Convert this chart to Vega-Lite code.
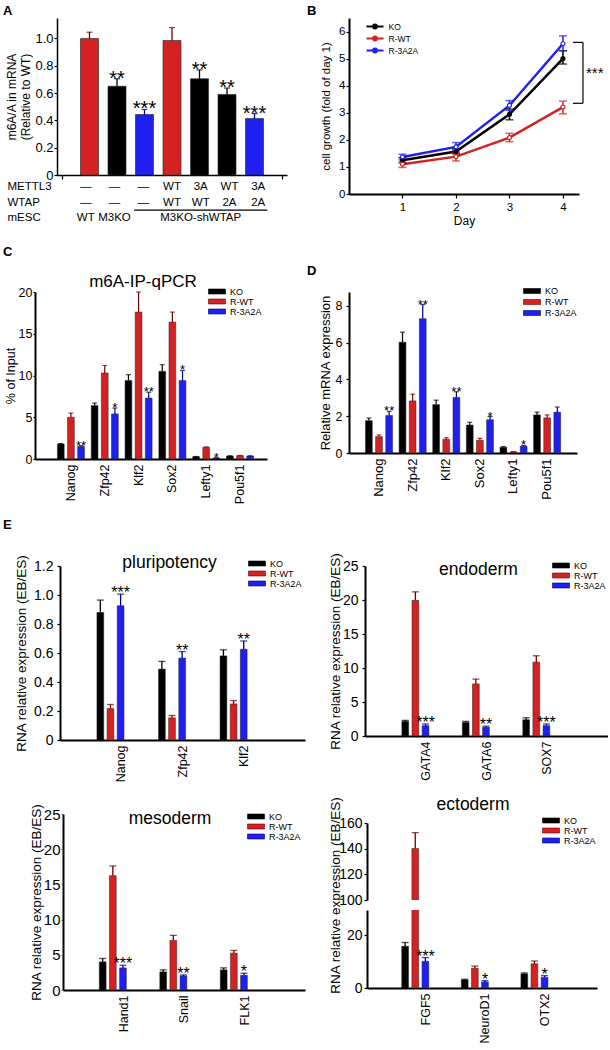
{
"$schema":"https://vega.github.io/schema/vega-lite/v6.json",
"padding":{"left":3,"top":5,"right":0,"bottom":0},
"config":{
 "font":"Liberation Sans",
 "view":{"stroke":null},
 "axis":{"grid":false,"domainColor":"#000000","tickColor":"#000000","labelColor":"#000000","titleColor":"#000000","titleFontWeight":"normal","labelFont":"Liberation Sans","titleFont":"Liberation Sans","domainWidth":1.8,"tickWidth":1.2,"tickSize":3,"labelPadding":2,"labelOverlap":false,"labelFlush":false,"labelBound":false,"tickCount":30},
 "legend":{"labelFont":"Liberation Sans","labelFontSize":9,"labelColor":"#000000","symbolType":"M-2.125,-0.625H2.125V0.625H-2.125Z","symbolSize":64,"symbolStrokeWidth":0.6,"rowPadding":-0.5,"labelOffset":8.5,"padding":0,"symbolOpacity":1},
 "title":{"font":"Liberation Sans","color":"#000000","fontWeight":"normal"},
 "text":{"font":"Liberation Sans","color":"#000000"}
},
"datasets":{
 "A":[
  {"col":1,"geno":"WT","v":1.0,"hi":1.046},
  {"col":2,"geno":"KO","v":0.65,"hi":0.705,"sig":"**"},
  {"col":3,"geno":"3A2A","v":0.443,"hi":0.48,"sig":"***"},
  {"col":4,"geno":"WT","v":0.985,"hi":1.08},
  {"col":5,"geno":"KO","v":0.705,"hi":0.77,"sig":"**"},
  {"col":6,"geno":"KO","v":0.59,"hi":0.637,"sig":"**"},
  {"col":7,"geno":"3A2A","v":0.414,"hi":0.45,"sig":"***"}
 ],
 "Atab":[
  {"col":1,"row":"METTL3","txt":"—"},{"col":2,"row":"METTL3","txt":"—"},{"col":3,"row":"METTL3","txt":"—"},{"col":4,"row":"METTL3","txt":"WT"},{"col":5,"row":"METTL3","txt":"3A"},{"col":6,"row":"METTL3","txt":"WT"},{"col":7,"row":"METTL3","txt":"3A"},
  {"col":1,"row":"WTAP","txt":"—"},{"col":2,"row":"WTAP","txt":"—"},{"col":3,"row":"WTAP","txt":"—"},{"col":4,"row":"WTAP","txt":"WT"},{"col":5,"row":"WTAP","txt":"WT"},{"col":6,"row":"WTAP","txt":"2A"},{"col":7,"row":"WTAP","txt":"2A"},
  {"col":1,"row":"mESC","txt":"WT"},{"col":2,"row":"mESC","txt":"M3KO"},{"col":5,"row":"mESC","txt":"M3KO-shWTAP"}
 ],
 "Aline":[{"from":3,"to":7,"row":"mESC"}],
 "B":[
  {"day":1,"line":"KO","v":1.25,"lo":1.15,"hi":1.35},
  {"day":2,"line":"KO","v":1.57,"lo":1.48,"hi":1.66},
  {"day":3,"line":"KO","v":2.94,"lo":2.74,"hi":3.14},
  {"day":4,"line":"KO","v":5.0,"lo":4.8,"hi":5.29},
  {"day":1,"line":"R-WT","v":1.1,"lo":0.98,"hi":1.22},
  {"day":2,"line":"R-WT","v":1.38,"lo":1.22,"hi":1.53},
  {"day":3,"line":"R-WT","v":2.08,"lo":1.93,"hi":2.24},
  {"day":4,"line":"R-WT","v":3.21,"lo":2.96,"hi":3.43},
  {"day":1,"line":"R-3A2A","v":1.37,"lo":1.29,"hi":1.47},
  {"day":2,"line":"R-3A2A","v":1.74,"lo":1.59,"hi":1.9},
  {"day":3,"line":"R-3A2A","v":3.27,"lo":3.09,"hi":3.45},
  {"day":4,"line":"R-3A2A","v":5.55,"lo":5.29,"hi":5.84}
 ],
 "Bbr":[{"day":4,"top":5.6,"bottom":3.35,"label":"***"}],
 "C":[
  {"gene":"Nanog","line":"KO","v":1.8,"hi":1.85},{"gene":"Nanog","line":"R-WT","v":5.0,"hi":5.5},{"gene":"Nanog","line":"R-3A2A","v":1.5,"hi":1.6,"sig":"**"},
  {"gene":"Zfp42","line":"KO","v":6.4,"hi":6.7},{"gene":"Zfp42","line":"R-WT","v":10.3,"hi":11.2},{"gene":"Zfp42","line":"R-3A2A","v":5.4,"hi":6.1,"sig":"*"},
  {"gene":"Klf2","line":"KO","v":9.4,"hi":10.1},{"gene":"Klf2","line":"R-WT","v":17.6,"hi":20.0},{"gene":"Klf2","line":"R-3A2A","v":7.3,"hi":8.0,"sig":"**"},
  {"gene":"Sox2","line":"KO","v":10.5,"hi":11.3},{"gene":"Sox2","line":"R-WT","v":16.4,"hi":17.6},{"gene":"Sox2","line":"R-3A2A","v":9.4,"hi":10.6,"sig":"*"},
  {"gene":"Lefty1","line":"KO","v":0.28,"hi":0.3},{"gene":"Lefty1","line":"R-WT","v":1.4,"hi":1.45},{"gene":"Lefty1","line":"R-3A2A","v":0.12,"hi":0.15,"sig":"*"},
  {"gene":"Pou5f1","line":"KO","v":0.36,"hi":0.38},{"gene":"Pou5f1","line":"R-WT","v":0.4,"hi":0.42},{"gene":"Pou5f1","line":"R-3A2A","v":0.36,"hi":0.38}
 ],
 "D":[
  {"gene":"Nanog","line":"KO","v":1.76,"hi":1.9},{"gene":"Nanog","line":"R-WT","v":0.89,"hi":0.98},{"gene":"Nanog","line":"R-3A2A","v":2.04,"hi":2.26,"sig":"**"},
  {"gene":"Zfp42","line":"KO","v":6.02,"hi":6.57},{"gene":"Zfp42","line":"R-WT","v":2.83,"hi":3.2},{"gene":"Zfp42","line":"R-3A2A","v":7.3,"hi":8.07,"sig":"**"},
  {"gene":"Klf2","line":"KO","v":2.63,"hi":2.87},{"gene":"Klf2","line":"R-WT","v":0.74,"hi":0.83},{"gene":"Klf2","line":"R-3A2A","v":3.02,"hi":3.33,"sig":"**"},
  {"gene":"Sox2","line":"KO","v":1.52,"hi":1.67},{"gene":"Sox2","line":"R-WT","v":0.69,"hi":0.8},{"gene":"Sox2","line":"R-3A2A","v":1.81,"hi":1.98,"sig":"*"},
  {"gene":"Lefty1","line":"KO","v":0.31,"hi":0.35},{"gene":"Lefty1","line":"R-WT","v":0.06,"hi":0.08},{"gene":"Lefty1","line":"R-3A2A","v":0.37,"hi":0.41,"sig":"*"},
  {"gene":"Pou5f1","line":"KO","v":2.07,"hi":2.22},{"gene":"Pou5f1","line":"R-WT","v":1.91,"hi":2.07},{"gene":"Pou5f1","line":"R-3A2A","v":2.22,"hi":2.5}
 ],
 "P":[
  {"gene":"Nanog","line":"KO","v":0.88,"hi":0.965},{"gene":"Nanog","line":"R-WT","v":0.217,"hi":0.245},{"gene":"Nanog","line":"R-3A2A","v":0.926,"hi":1.006,"sig":"***"},
  {"gene":"Zfp42","line":"KO","v":0.489,"hi":0.542},{"gene":"Zfp42","line":"R-WT","v":0.153,"hi":0.169},{"gene":"Zfp42","line":"R-3A2A","v":0.565,"hi":0.61,"sig":"**"},
  {"gene":"Klf2","line":"KO","v":0.58,"hi":0.622},{"gene":"Klf2","line":"R-WT","v":0.249,"hi":0.272},{"gene":"Klf2","line":"R-3A2A","v":0.626,"hi":0.683,"sig":"**"}
 ],
 "En":[
  {"gene":"GATA4","line":"KO","v":2.15,"hi":2.3},{"gene":"GATA4","line":"R-WT","v":19.95,"hi":21.2},{"gene":"GATA4","line":"R-3A2A","v":1.53,"hi":1.77,"sig":"***"},
  {"gene":"GATA6","line":"KO","v":2.0,"hi":2.15},{"gene":"GATA6","line":"R-WT","v":7.66,"hi":8.37},{"gene":"GATA6","line":"R-3A2A","v":1.29,"hi":1.44,"sig":"**"},
  {"gene":"SOX7","line":"KO","v":2.39,"hi":2.68},{"gene":"SOX7","line":"R-WT","v":10.86,"hi":11.8},{"gene":"SOX7","line":"R-3A2A","v":1.53,"hi":1.77,"sig":"***"}
 ],
 "Me":[
  {"gene":"Hand1","line":"KO","v":4.0,"hi":4.48},{"gene":"Hand1","line":"R-WT","v":16.24,"hi":17.62},{"gene":"Hand1","line":"R-3A2A","v":3.14,"hi":3.52,"sig":"***"},
  {"gene":"Snail","line":"KO","v":2.57,"hi":2.86},{"gene":"Snail","line":"R-WT","v":7.05,"hi":7.76},{"gene":"Snail","line":"R-3A2A","v":2.0,"hi":2.14,"sig":"**"},
  {"gene":"FLK1","line":"KO","v":2.86,"hi":3.14},{"gene":"FLK1","line":"R-WT","v":5.24,"hi":5.62},{"gene":"FLK1","line":"R-3A2A","v":2.1,"hi":2.38,"sig":"*"}
 ],
 "Ec":[
  {"gene":"FGF5","line":"KO","v":15.8,"hi":17.2},{"gene":"FGF5","line":"R-WT","v":140.2,"hi":152.5},{"gene":"FGF5","line":"R-3A2A","v":10.1,"hi":11.5,"sig":"***"},
  {"gene":"NeuroD1","line":"KO","v":3.06,"hi":3.3},{"gene":"NeuroD1","line":"R-WT","v":7.5,"hi":8.3},{"gene":"NeuroD1","line":"R-3A2A","v":2.3,"hi":2.8,"sig":"*"},
  {"gene":"OTX2","line":"KO","v":5.35,"hi":5.7},{"gene":"OTX2","line":"R-WT","v":9.17,"hi":10.2},{"gene":"OTX2","line":"R-3A2A","v":4.08,"hi":4.7,"sig":"*"}
 ]
},
"spacing":0,
"resolve":{"scale":{"fill":"independent","color":"independent","stroke":"independent"},"legend":{"fill":"independent","color":"independent","stroke":"independent"}},
"vconcat":[
 {"hconcat":[
   {"width":22,"height":1,"data":{"values":[{}]},"mark":{"type":"point","opacity":0}},
   {"title":{"text":"A","anchor":"start","frame":"group","fontSize":13,"fontWeight":"bold","offset":0,"dx":-54},
    "bounds":"flush","spacing":4,
    "resolve":{"scale":{"fill":"independent","color":"independent"}},
    "vconcat":[
     {"width":230,"height":157,"data":{"name":"A"},
      "encoding":{"x":{"field":"col","type":"quantitative","scale":{"domain":[0,8],"nice":false},"axis":{"title":null,"labels":false,"values":[0,8],"tickSize":4,"domainWidth":1.5}}},
      "layer":[
       {"mark":{"type":"bar","width":18,"stroke":"#222222","strokeWidth":0.6},
        "encoding":{"y":{"field":"v","type":"quantitative","scale":{"domain":[0,1.15],"nice":false},"title":["m6A/A in mRNA","(Relative to WT)"],"axis":{"values":[0,0.2,0.4,0.6,0.8,1],"tickCount":30,"labelOverlap":false,"labelExpr":"datum.value == 0 ? '0' : format(datum.value, '.1f')","labelFontSize":13,"labelPadding":1,"titleFontSize":12,"titleLineHeight":14,"titlePadding":2,"domainWidth":1.5}},
         "fill":{"field":"geno","type":"nominal","scale":{"domain":["WT","KO","3A2A"],"range":["#d42222","#000000","#1f1ff0"]},"legend":null}}},
       {"mark":{"type":"rule","strokeWidth":1.3},
        "encoding":{"y":{"field":"v","type":"quantitative"},"y2":{"field":"hi"},"color":{"field":"geno","type":"nominal","scale":{"domain":["WT","KO","3A2A"],"range":["#6b0000","#000000","#00006b"]},"legend":null}}},
       {"mark":{"type":"tick","orient":"horizontal","size":6,"thickness":1.3},
        "encoding":{"y":{"field":"hi","type":"quantitative"},"color":{"field":"geno","type":"nominal","legend":null}}},
       {"transform":[{"filter":"datum.sig"}],"mark":{"type":"text","fontSize":20,"baseline":"alphabetic","dy":6},
        "encoding":{"y":{"field":"hi","type":"quantitative"},"text":{"field":"sig"}}}
      ]},
     {"width":230,"height":47,
      "layer":[
       {"data":{"name":"Atab"},"mark":{"type":"text","fontSize":11.5,"baseline":"middle"},
        "encoding":{"x":{"field":"col","type":"quantitative","scale":{"domain":[0,8],"nice":false},"axis":null},
         "y":{"field":"row","type":"nominal","sort":["METTL3","WTAP","mESC"],"axis":{"title":null,"domain":false,"ticks":false,"labelAlign":"left","labelPadding":50,"labelFontSize":11.5}},
         "text":{"field":"txt"}}},
       {"data":{"name":"Aline"},"mark":{"type":"rule","xOffset":-9,"x2Offset":9,"yOffset":-8,"strokeWidth":1.2,"color":"#000000"},
        "encoding":{"x":{"field":"from","type":"quantitative"},"x2":{"field":"to"},"y":{"field":"row","type":"nominal","sort":["METTL3","WTAP","mESC"]}}}
      ]}
    ]},
   {"width":292,"height":1,"data":{"values":[{}]},"mark":{"type":"point","opacity":0}},
   {"title":{"text":"B","anchor":"start","frame":"group","fontSize":13,"fontWeight":"bold","offset":0,"dx":-42},
    "width":230,"height":176,
    "layer":[
     {"data":{"name":"B"},"mark":{"type":"line","strokeWidth":2.5},
      "encoding":{"x":{"field":"day","type":"quantitative","scale":{"domain":[0,4.3],"nice":false},"title":"Day","axis":{"values":[1,2,3,4],"format":"d","labelFontSize":11.5,"titleFontSize":12,"tickSize":4,"labelPadding":3,"titlePadding":3,"domainWidth":2}},
       "y":{"field":"v","type":"quantitative","scale":{"domain":[0,6.5],"nice":false},"title":"cell growth (fold of day 1)","axis":{"values":[0,1,2,3,4,5,6],"format":"d","tickCount":30,"labelOverlap":false,"labelFontSize":11.5,"titleFontSize":11.5,"tickSize":3,"labelPadding":1,"titlePadding":7,"domainWidth":2}},
       "color":{"field":"line","type":"nominal","scale":{"domain":["KO","R-WT","R-3A2A"],"range":["#000000","#d42222","#1f1ff0"]},"legend":{"orient":"none","legendX":20.5,"legendY":3,"title":null,"symbolType":"M-2.125,0H2.125M0.45,0A0.45,0.45 0 1,1 -0.45,0A0.45,0.45 0 1,1 0.45,0","symbolFillColor":"#ffffff","symbolStrokeWidth":2.2,"symbolSize":64,"labelFontSize":8.5,"rowPadding":-11,"labelOffset":8}}}},
     {"data":{"name":"B"},"mark":{"type":"rule","strokeWidth":1.5},
      "encoding":{"x":{"field":"day","type":"quantitative"},"y":{"field":"lo","type":"quantitative"},"y2":{"field":"hi"},"color":{"field":"line","type":"nominal"}}},
     {"data":{"name":"B"},"mark":{"type":"tick","orient":"horizontal","size":8,"thickness":1.5},
      "encoding":{"x":{"field":"day","type":"quantitative"},"y":{"field":"hi","type":"quantitative"},"color":{"field":"line","type":"nominal"}}},
     {"data":{"name":"B"},"mark":{"type":"tick","orient":"horizontal","size":8,"thickness":1.5},
      "encoding":{"x":{"field":"day","type":"quantitative"},"y":{"field":"lo","type":"quantitative"},"color":{"field":"line","type":"nominal"}}},
     {"data":{"name":"B"},"mark":{"type":"point","size":16,"strokeWidth":1.2,"opacity":1},
      "encoding":{"x":{"field":"day","type":"quantitative"},"y":{"field":"v","type":"quantitative"},
       "fill":{"field":"line","type":"nominal","scale":{"domain":["KO","R-WT","R-3A2A"],"range":["#000000","#ffffff","#ffffff"]},"legend":null},
       "stroke":{"field":"line","type":"nominal","scale":{"domain":["KO","R-WT","R-3A2A"],"range":["#000000","#d42222","#1f1ff0"]},"legend":null}}},
     {"data":{"name":"Bbr"},"mark":{"type":"rule","xOffset":20,"strokeWidth":1.2,"color":"#000000"},
      "encoding":{"x":{"field":"day","type":"quantitative"},"y":{"field":"top","type":"quantitative"},"y2":{"field":"bottom"}}},
     {"data":{"name":"Bbr"},"mark":{"type":"rule","xOffset":10,"x2Offset":20,"strokeWidth":1.2,"color":"#000000"},
      "encoding":{"x":{"field":"day","type":"quantitative"},"x2":{"field":"day"},"y":{"field":"top","type":"quantitative"}}},
     {"data":{"name":"Bbr"},"mark":{"type":"rule","xOffset":10,"x2Offset":20,"strokeWidth":1.2,"color":"#000000"},
      "encoding":{"x":{"field":"day","type":"quantitative"},"x2":{"field":"day"},"y":{"field":"bottom","type":"quantitative"}}},
     {"data":{"name":"Bbr"},"mark":{"type":"text","fontSize":15,"align":"left","baseline":"alphabetic","dx":23,"dy":36},
      "encoding":{"x":{"field":"day","type":"quantitative"},"y":{"field":"top","type":"quantitative"},"text":{"field":"label"}}}
    ]}
  ],"spacing":0,"bounds":"flush","resolve":{"scale":{"fill":"independent","color":"independent","stroke":"independent"},"legend":{"fill":"independent","color":"independent","stroke":"independent"}}},
 {"width":1,"height":19,"data":{"values":[{}]},"mark":{"type":"point","opacity":0}},
 {"hconcat":[
   {"title":{"text":"C","anchor":"start","frame":"group","fontSize":13,"fontWeight":"bold","offset":14,"dx":-32},
    "bounds":"flush",
    "vconcat":[
     {"width":232,"height":167,
      "title":{"text":"m6A-IP-qPCR","fontSize":17,"frame":"group","anchor":"middle","dx":-8,"offset":-5},
      "data":{"name":"C"},
      "encoding":{
       "x":{"field":"gene","type":"nominal","sort":["Nanog","Zfp42","Klf2","Sox2","Lefty1","Pou5f1"],"scale":{"paddingInner":0.2,"paddingOuter":0.53,"align":0.625},"axis":{"title":null,"labelAngle":-90,"labelFontSize":12.5,"ticks":false,"labelPadding":5,"domainWidth":2}},
       "xOffset":{"field":"line","type":"nominal","sort":["KO","R-WT","R-3A2A"],"scale":{"paddingInner":0.33,"paddingOuter":0}}},
      "layer":[
       {"mark":{"type":"bar","stroke":"#222222","strokeWidth":0.5},
        "encoding":{"y":{"field":"v","type":"quantitative","scale":{"domain":[0,20],"nice":false},"title":"% of Input","axis":{"values":[0,5,10,15,20],"format":"d","tickCount":30,"labelOverlap":false,"labelFontSize":12.5,"tickSize":2,"labelPadding":1,"titleFontSize":12.5,"titlePadding":1,"domainWidth":2}},
         "fill":{"field":"line","type":"nominal","scale":{"domain":["KO","R-WT","R-3A2A"],"range":["#000000","#d42222","#1f1ff0"]},"legend":{"orient":"none","legendX":177.5,"legendY":-5,"title":null,"symbolStrokeColor":"#333333","rowPadding":-1}}}},
       {"mark":{"type":"rule","strokeWidth":1.2},
        "encoding":{"y":{"field":"v","type":"quantitative"},"y2":{"field":"hi"},"color":{"field":"line","type":"nominal","scale":{"domain":["KO","R-WT","R-3A2A"],"range":["#000000","#6b0000","#00006b"]},"legend":null}}},
       {"mark":{"type":"tick","thickness":1.2,"size":5},
        "encoding":{"y":{"field":"hi","type":"quantitative"},"color":{"field":"line","type":"nominal","legend":null}}},
       {"transform":[{"filter":"datum.sig"}],"mark":{"type":"text","fontSize":13,"baseline":"alphabetic","dy":4},
        "encoding":{"y":{"field":"hi","type":"quantitative"},"text":{"field":"sig"}}}
      ]}
    ]},
   {"width":314,"height":1,"data":{"values":[{}]},"mark":{"type":"point","opacity":0}},
   {"width":228,"height":161,
    "title":{"text":"D","anchor":"start","frame":"group","fontSize":13,"fontWeight":"bold","dx":-42,"offset":9},
    "data":{"name":"D"},
    "encoding":{
     "x":{"field":"gene","type":"nominal","sort":["Nanog","Zfp42","Klf2","Sox2","Lefty1","Pou5f1"],"scale":{"paddingInner":0.2,"paddingOuter":0.49},"axis":{"title":null,"labelAngle":-90,"labelFontSize":13,"ticks":false,"labelPadding":5,"domainWidth":2}},
     "xOffset":{"field":"line","type":"nominal","sort":["KO","R-WT","R-3A2A"],"scale":{"paddingInner":0.33,"paddingOuter":0}}},
    "layer":[
     {"mark":{"type":"bar","stroke":"#222222","strokeWidth":0.5},
      "encoding":{"y":{"field":"v","type":"quantitative","scale":{"domain":[0,8.75],"nice":false},"title":"Relative mRNA expression","axis":{"values":[0,2,4,6,8],"format":"d","tickCount":30,"labelOverlap":false,"labelFontSize":12.5,"tickSize":3,"labelPadding":4,"titleFontSize":13,"titlePadding":3,"domainWidth":2}},
       "fill":{"field":"line","type":"nominal","scale":{"domain":["KO","R-WT","R-3A2A"],"range":["#000000","#d42222","#1f1ff0"]},"legend":{"orient":"none","legendX":178.5,"legendY":-5.5,"title":null,"symbolStrokeColor":"#333333","rowPadding":1}}}},
     {"mark":{"type":"rule","strokeWidth":1.2},
      "encoding":{"y":{"field":"v","type":"quantitative"},"y2":{"field":"hi"},"color":{"field":"line","type":"nominal","scale":{"domain":["KO","R-WT","R-3A2A"],"range":["#000000","#6b0000","#00006b"]},"legend":null}}},
     {"mark":{"type":"tick","thickness":1.2,"size":5},
      "encoding":{"y":{"field":"hi","type":"quantitative"},"color":{"field":"line","type":"nominal","legend":null}}},
     {"transform":[{"filter":"datum.sig"}],"mark":{"type":"text","fontSize":13,"baseline":"alphabetic","dy":4},
      "encoding":{"y":{"field":"hi","type":"quantitative"},"text":{"field":"sig"}}}
    ]}
  ],"spacing":0,"bounds":"flush","resolve":{"scale":{"fill":"independent","color":"independent","stroke":"independent"},"legend":{"fill":"independent","color":"independent","stroke":"independent"}}},
 {"width":1,"height":14,"data":{"values":[{}]},"mark":{"type":"point","opacity":0}},
 {"hconcat":[
   {"width":25,"height":1,"data":{"values":[{}]},"mark":{"type":"point","opacity":0}},
   {"title":{"text":"E","anchor":"start","frame":"group","fontSize":13,"fontWeight":"bold","offset":22,"dx":-57},
    "bounds":"flush",
    "vconcat":[
     {"width":245,"height":174,
      "title":{"text":"pluripotency","fontSize":17.5,"frame":"group","anchor":"middle","dx":-13,"offset":-17},
      "data":{"name":"P"},
      "encoding":{
       "x":{"field":"gene","type":"nominal","sort":["Nanog","Zfp42","Klf2"],"scale":{"paddingInner":0.22,"paddingOuter":0.6},"axis":{"title":null,"labelAngle":-90,"labelFontSize":12.5,"ticks":false,"labelPadding":5,"domainWidth":2}},
       "xOffset":{"field":"line","type":"nominal","sort":["KO","R-WT","R-3A2A"],"scale":{"paddingInner":0.375,"paddingOuter":0}}},
      "layer":[
       {"mark":{"type":"bar","stroke":"#222222","strokeWidth":0.5},
        "encoding":{"y":{"field":"v","type":"quantitative","scale":{"domain":[0,1.2],"nice":false},"title":"RNA relative expression (EB/ES)","axis":{"values":[0,0.2,0.4,0.6,0.8,1,1.2],"tickCount":30,"labelOverlap":false,"labelExpr":"datum.value == 0 ? '0' : format(datum.value, '.1f')","labelFontSize":14,"tickSize":3,"labelPadding":4,"titleFontSize":13.5,"titlePadding":5,"domainWidth":2}},
         "fill":{"field":"line","type":"nominal","scale":{"domain":["KO","R-WT","R-3A2A"],"range":["#000000","#d42222","#1f1ff0"]},"legend":{"orient":"none","legendX":192.5,"legendY":-7,"title":null,"symbolStrokeColor":"#333333"}}}},
       {"mark":{"type":"rule","strokeWidth":1.3},
        "encoding":{"y":{"field":"v","type":"quantitative"},"y2":{"field":"hi"},"color":{"field":"line","type":"nominal","scale":{"domain":["KO","R-WT","R-3A2A"],"range":["#000000","#6b0000","#00006b"]},"legend":null}}},
       {"mark":{"type":"tick","thickness":1.3,"size":7},
        "encoding":{"y":{"field":"hi","type":"quantitative"},"color":{"field":"line","type":"nominal","legend":null}}},
       {"transform":[{"filter":"datum.sig"}],"mark":{"type":"text","fontSize":16,"baseline":"alphabetic","dy":4},
        "encoding":{"y":{"field":"hi","type":"quantitative"},"text":{"field":"sig"}}}
      ]}
    ]},
   {"width":305,"height":1,"data":{"values":[{}]},"mark":{"type":"point","opacity":0}},
   {"width":243,"height":170,
    "title":{"text":"endoderm","fontSize":17.5,"frame":"group","anchor":"middle","dx":-8,"offset":-26},
    "data":{"name":"En"},
    "encoding":{
     "x":{"field":"gene","type":"nominal","sort":["GATA4","GATA6","SOX7"],"scale":{"paddingInner":0.2,"paddingOuter":0.61},"axis":{"title":null,"labelAngle":-90,"labelFontSize":12.5,"ticks":false,"labelPadding":5,"domainWidth":2}},
     "xOffset":{"field":"line","type":"nominal","sort":["KO","R-WT","R-3A2A"],"scale":{"paddingInner":0.39,"paddingOuter":0}}},
    "layer":[
     {"mark":{"type":"bar","stroke":"#222222","strokeWidth":0.5},
      "encoding":{"y":{"field":"v","type":"quantitative","scale":{"domain":[0,25],"nice":false},"title":"RNA relative expression (EB/ES)","axis":{"values":[0,5,10,15,20,25],"format":"d","tickCount":30,"labelOverlap":false,"labelFontSize":14,"tickSize":3,"labelPadding":4,"titleFontSize":13.5,"titlePadding":0,"domainWidth":2}},
       "fill":{"field":"line","type":"nominal","scale":{"domain":["KO","R-WT","R-3A2A"],"range":["#000000","#d42222","#1f1ff0"]},"legend":{"orient":"none","legendX":191.5,"legendY":-5,"title":null,"symbolStrokeColor":"#333333"}}}},
     {"mark":{"type":"rule","strokeWidth":1.3},
      "encoding":{"y":{"field":"v","type":"quantitative"},"y2":{"field":"hi"},"color":{"field":"line","type":"nominal","scale":{"domain":["KO","R-WT","R-3A2A"],"range":["#000000","#6b0000","#00006b"]},"legend":null}}},
     {"mark":{"type":"tick","thickness":1.3,"size":7},
      "encoding":{"y":{"field":"hi","type":"quantitative"},"color":{"field":"line","type":"nominal","legend":null}}},
     {"transform":[{"filter":"datum.sig"}],"mark":{"type":"text","fontSize":16,"baseline":"alphabetic","dy":4},
      "encoding":{"y":{"field":"hi","type":"quantitative"},"text":{"field":"sig"}}}
    ]}
  ],"spacing":0,"bounds":"flush","resolve":{"scale":{"fill":"independent","color":"independent","stroke":"independent"},"legend":{"fill":"independent","color":"independent","stroke":"independent"}}},
 {"width":1,"height":13,"data":{"values":[{}]},"mark":{"type":"point","opacity":0}},
 {"hconcat":[
   {"width":28,"height":1,"data":{"values":[{}]},"mark":{"type":"point","opacity":0}},
   {"width":242,"height":176,
    "title":{"text":"mesoderm","fontSize":17.5,"frame":"group","anchor":"middle","dx":-14,"offset":-24},
    "data":{"name":"Me"},
    "encoding":{
     "x":{"field":"gene","type":"nominal","sort":["Hand1","Snail","FLK1"],"scale":{"paddingInner":0.2,"paddingOuter":0.6},"axis":{"title":null,"labelAngle":-90,"labelFontSize":12.5,"ticks":false,"labelPadding":5,"domainWidth":2}},
     "xOffset":{"field":"line","type":"nominal","sort":["KO","R-WT","R-3A2A"],"scale":{"paddingInner":0.39,"paddingOuter":0}}},
    "layer":[
     {"mark":{"type":"bar","stroke":"#222222","strokeWidth":0.5},
      "encoding":{"y":{"field":"v","type":"quantitative","scale":{"domain":[0,25],"nice":false},"title":"RNA relative expression (EB/ES)","axis":{"values":[0,5,10,15,20,25],"format":"d","tickCount":30,"labelOverlap":false,"labelFontSize":15,"tickSize":2,"labelPadding":1,"tickColor":"#888888","titleFontSize":13.5,"titlePadding":0,"domainWidth":2}},
       "fill":{"field":"line","type":"nominal","scale":{"domain":["KO","R-WT","R-3A2A"],"range":["#000000","#d42222","#1f1ff0"]},"legend":{"orient":"none","legendX":188.5,"legendY":-2,"title":null,"symbolStrokeColor":"#333333"}}}},
     {"mark":{"type":"rule","strokeWidth":1.3},
      "encoding":{"y":{"field":"v","type":"quantitative"},"y2":{"field":"hi"},"color":{"field":"line","type":"nominal","scale":{"domain":["KO","R-WT","R-3A2A"],"range":["#000000","#6b0000","#00006b"]},"legend":null}}},
     {"mark":{"type":"tick","thickness":1.3,"size":7},
      "encoding":{"y":{"field":"hi","type":"quantitative"},"color":{"field":"line","type":"nominal","legend":null}}},
     {"transform":[{"filter":"datum.sig"}],"mark":{"type":"text","fontSize":16,"baseline":"alphabetic","dy":4},
      "encoding":{"y":{"field":"hi","type":"quantitative"},"text":{"field":"sig"}}}
    ]},
   {"width":62,"height":1,"data":{"values":[{}]},"mark":{"type":"point","opacity":0}},
   {"vconcat":[
     {"width":1,"height":9,"data":{"values":[{}]},"mark":{"type":"point","opacity":0}},
     {"width":230,"height":77,
      "title":{"text":"ectoderm","fontSize":17.5,"frame":"group","anchor":"middle","dx":-9,"offset":3},
      "data":{"name":"Ec"},
      "encoding":{
       "x":{"field":"gene","type":"nominal","sort":["FGF5","NeuroD1","OTX2"],"scale":{"paddingInner":0.2,"paddingOuter":0.53,"align":0.55},"axis":null},
       "xOffset":{"field":"line","type":"nominal","sort":["KO","R-WT","R-3A2A"],"scale":{"paddingInner":0.35,"paddingOuter":0}}},
      "layer":[
       {"mark":{"type":"bar","stroke":"#222222","strokeWidth":0.5,"clip":true},
        "encoding":{"y":{"field":"v","type":"quantitative","scale":{"domain":[100,160],"nice":false,"zero":false},"title":null,"axis":{"values":[100,120,140,160],"format":"d","tickCount":30,"labelOverlap":false,"labelFontSize":14,"tickSize":3,"labelPadding":2,"domainWidth":2}},
         "fill":{"field":"line","type":"nominal","scale":{"domain":["KO","R-WT","R-3A2A"],"range":["#000000","#d42222","#1f1ff0"]},"legend":{"orient":"none","legendX":179.5,"legendY":-7,"title":null,"symbolStrokeColor":"#333333"}}}},
       {"mark":{"type":"rule","strokeWidth":1.3,"clip":true},
        "encoding":{"y":{"field":"v","type":"quantitative"},"y2":{"field":"hi"},"color":{"field":"line","type":"nominal","scale":{"domain":["KO","R-WT","R-3A2A"],"range":["#000000","#6b0000","#00006b"]},"legend":null}}},
       {"mark":{"type":"tick","thickness":1.3,"size":7,"clip":true},
        "encoding":{"y":{"field":"hi","type":"quantitative"},"color":{"field":"line","type":"nominal","legend":null}}}
      ]},
     {"width":1,"height":10,"data":{"values":[{}]},"mark":{"type":"point","opacity":0}},
     {"width":230,"height":78,
      "data":{"name":"Ec"},
      "encoding":{
       "x":{"field":"gene","type":"nominal","sort":["FGF5","NeuroD1","OTX2"],"scale":{"paddingInner":0.2,"paddingOuter":0.53,"align":0.55},"axis":{"title":null,"labelAngle":-90,"labelFontSize":12.5,"ticks":false,"labelPadding":5,"domainWidth":2}},
       "xOffset":{"field":"line","type":"nominal","sort":["KO","R-WT","R-3A2A"],"scale":{"paddingInner":0.35,"paddingOuter":0}}},
      "layer":[
       {"mark":{"type":"bar","stroke":"#222222","strokeWidth":0.5,"clip":true},
        "encoding":{"y":{"field":"v","type":"quantitative","scale":{"domain":[0,29.5],"nice":false},"title":"RNA relative expression (EB/ES)","axis":{"values":[0,20],"format":"d","tickCount":30,"labelOverlap":false,"labelFontSize":14,"tickSize":3,"labelPadding":2,"titleFontSize":13.5,"titlePadding":4,"titleY":-15,"domainWidth":2}},
         "fill":{"field":"line","type":"nominal","scale":{"domain":["KO","R-WT","R-3A2A"],"range":["#000000","#d42222","#1f1ff0"]},"legend":null}}},
       {"mark":{"type":"rule","strokeWidth":1.3,"clip":true},
        "encoding":{"y":{"field":"v","type":"quantitative"},"y2":{"field":"hi"},"color":{"field":"line","type":"nominal","scale":{"domain":["KO","R-WT","R-3A2A"],"range":["#000000","#6b0000","#00006b"]},"legend":null}}},
       {"mark":{"type":"tick","thickness":1.3,"size":7,"clip":true},
        "encoding":{"y":{"field":"hi","type":"quantitative"},"color":{"field":"line","type":"nominal","legend":null}}},
       {"transform":[{"filter":"datum.sig"}],"mark":{"type":"text","fontSize":16,"baseline":"alphabetic","dy":4},
        "encoding":{"y":{"field":"hi","type":"quantitative"},"text":{"field":"sig"}}}
      ]}
   ],"spacing":0,"bounds":"flush","resolve":{"scale":{"fill":"independent","color":"independent"},"legend":{"fill":"independent","color":"independent"}}}
  ],"spacing":0,"bounds":"flush","resolve":{"scale":{"fill":"independent","color":"independent","stroke":"independent"},"legend":{"fill":"independent","color":"independent","stroke":"independent"}}}
]
}
